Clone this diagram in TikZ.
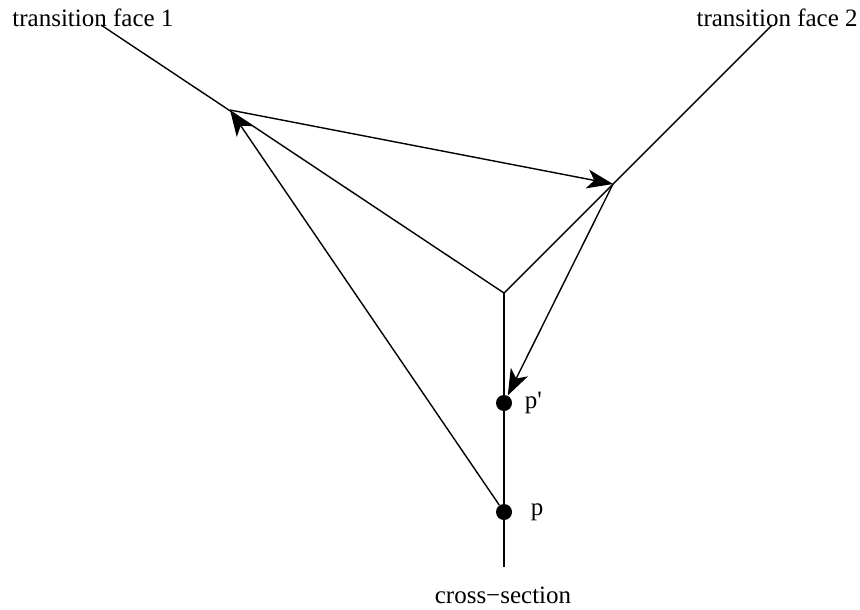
\documentclass[tikz,border=0pt]{standalone}
\usepackage{fontspec}
\setmainfont{Liberation Serif}
\usetikzlibrary{arrows.meta,positioning}
\tikzset{%
	face/.style  = {line width=0.7pt},
	dot/.style   = {circle, fill, inner sep=0pt, minimum size=8pt},
	lbl/.style   = {font=\fontsize{12.5}{15}\selectfont, inner sep=0pt},
	arrow/.style = {line width=0.7pt, -{Stealth[length=13pt, width=9.5pt, inset=3.5pt]}},
}
\begin{document}
\begin{tikzpicture}[x=0.5pt,y=-0.5pt]
	\useasboundingbox (0,0) rectangle (860,609);
	\coordinate (junc) at (504,293);  % where the three faces meet
	\coordinate (end1) at (101,25);
	\coordinate (end2) at (772,25);
	\coordinate (bot) at (504,567);
	\coordinate (A) at (230,110);
	\coordinate (B) at (613,184);
	\draw[face] (junc) -- (end1);
	\draw[face] (junc) -- (end2);
	\draw[face] (junc) -- (bot);
	\node[dot] (pp) at (504,403) {};
	\node[dot] (p) at (504,512) {};
	\node[lbl, right=6pt of pp] (pplabel) {p\textquotesingle};
	\node[lbl, right=9pt of p] (plabel) {p};
	\node[lbl, anchor=base west] (face1) at (12,27) {transition face 1};
	\node[lbl, anchor=base east] (face2) at (858,27) {transition face 2};
	\node[lbl, anchor=base] (xsec) at (503,603) {cross−section};
	\draw[arrow] (p) -- (A);
	\draw[arrow] (A) -- (B);
	\draw[arrow] (B) -- (pp);
\end{tikzpicture}
\end{document}
